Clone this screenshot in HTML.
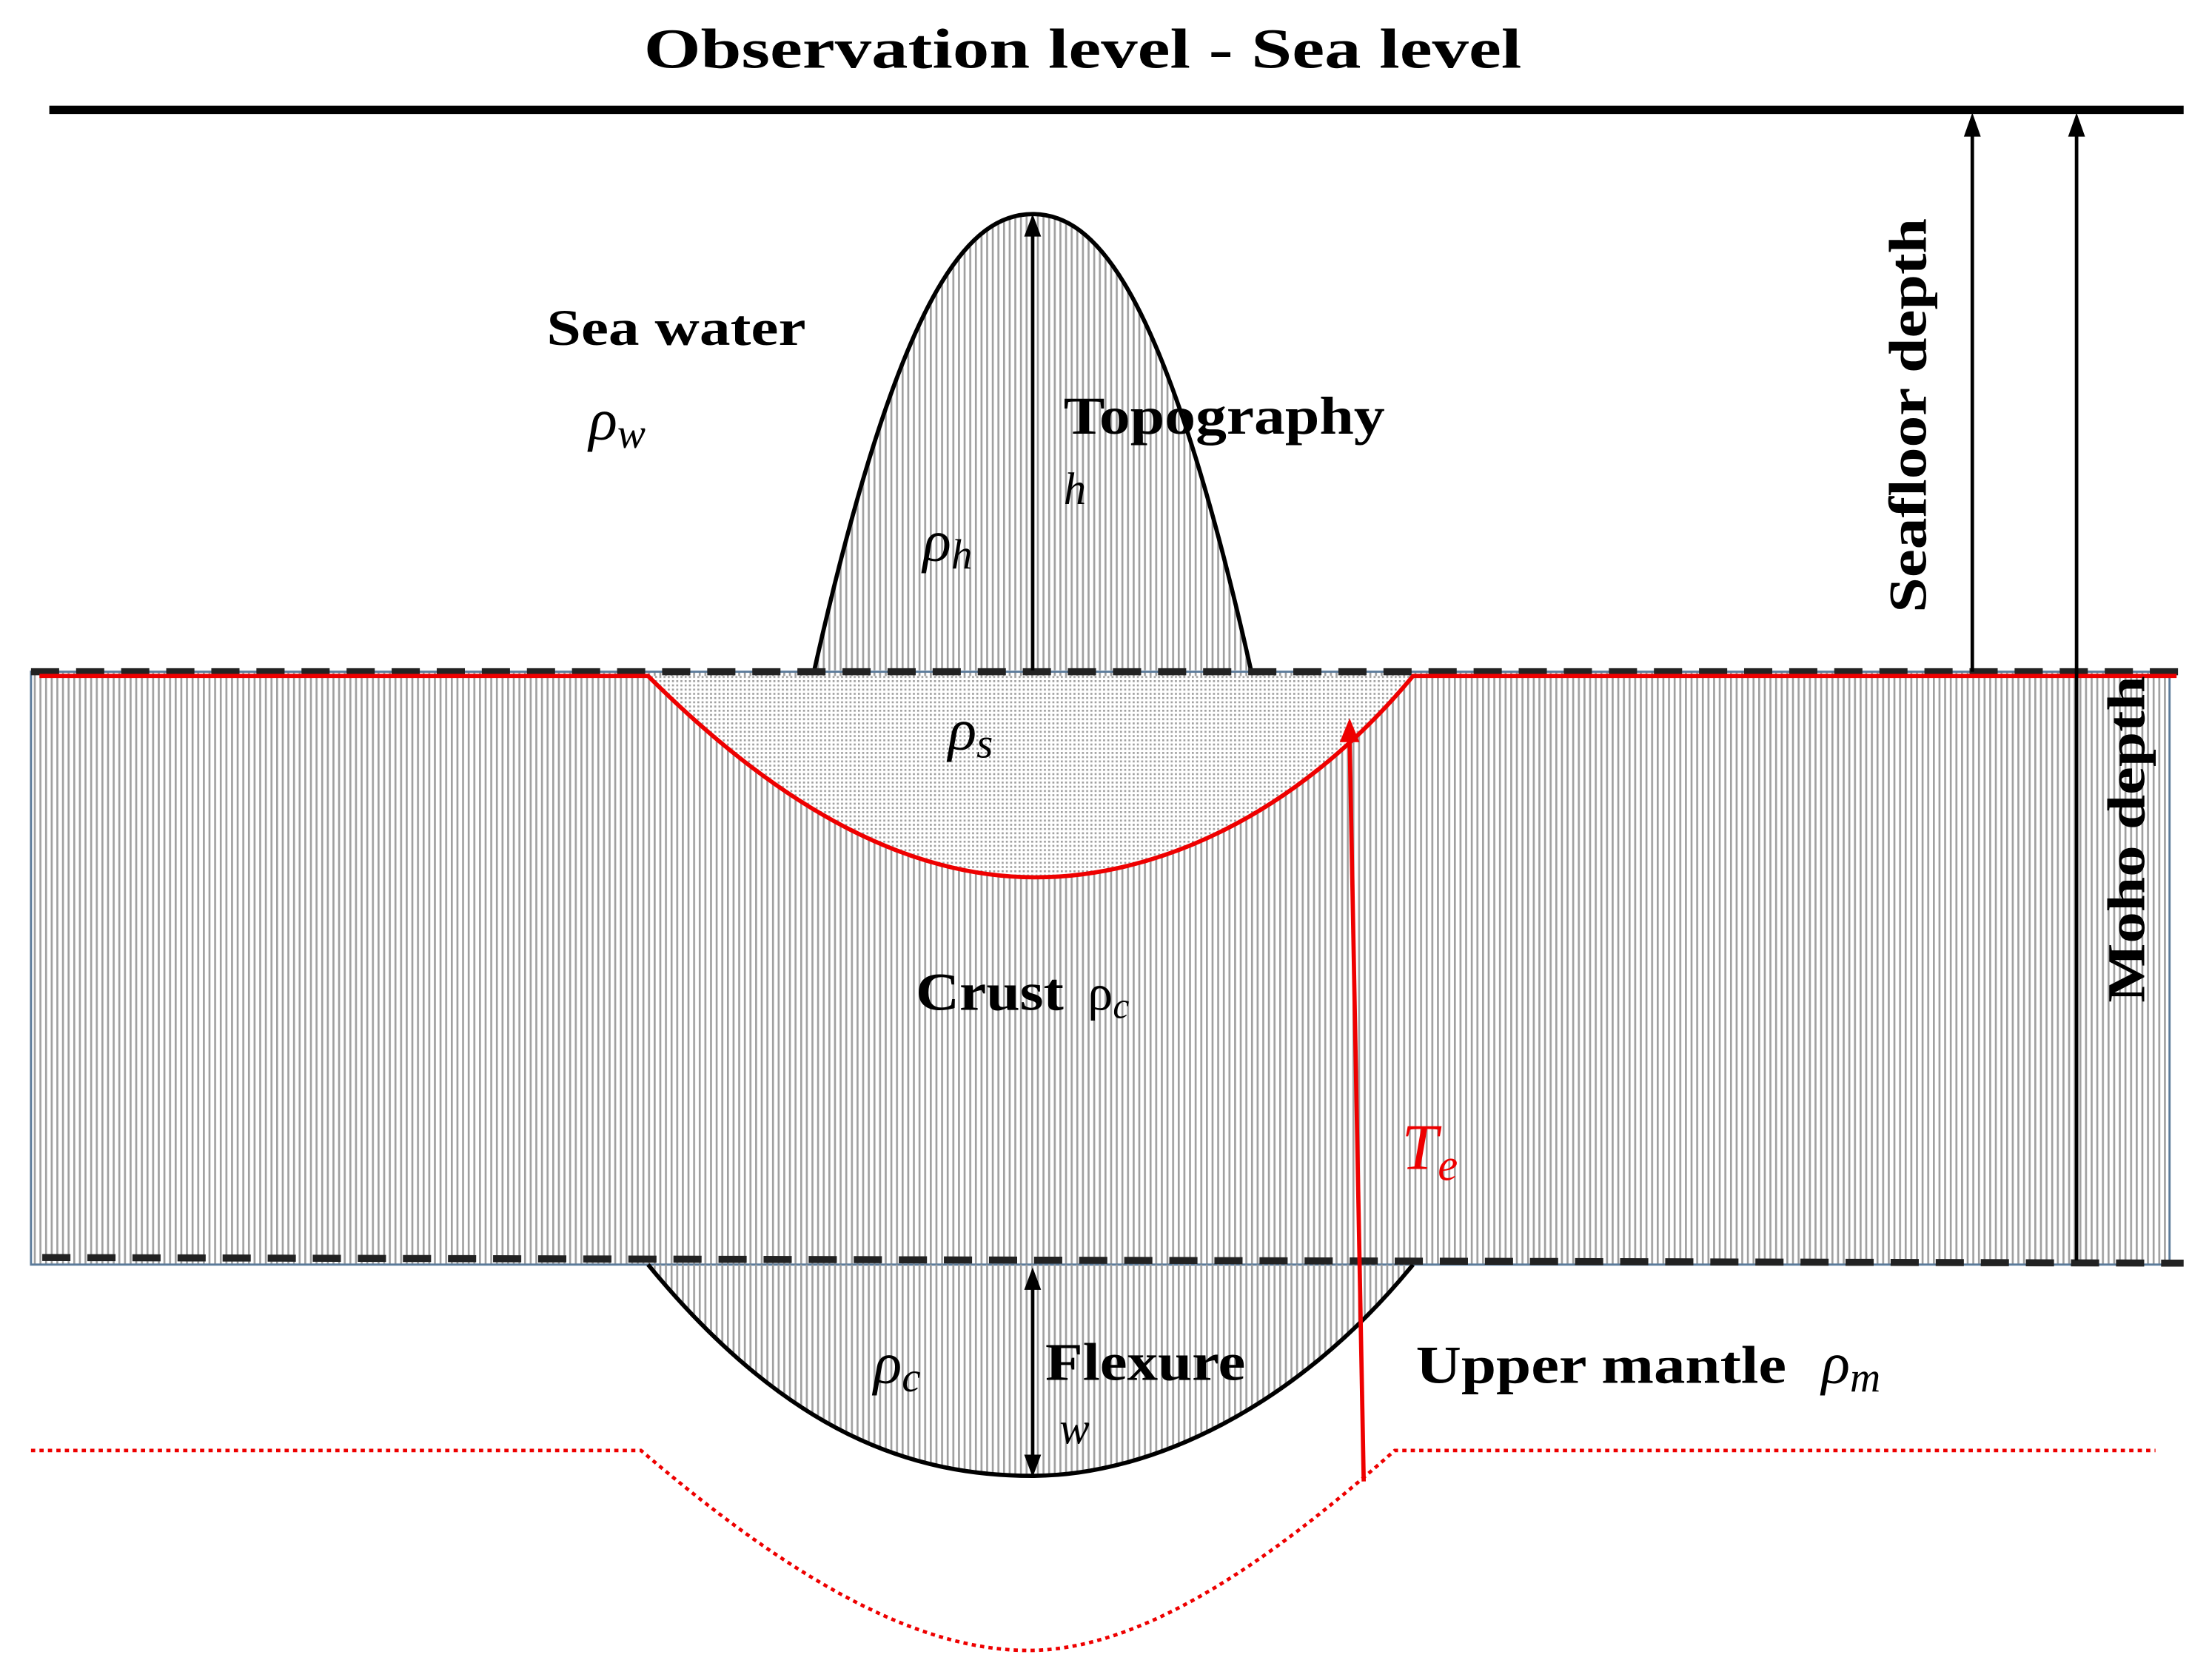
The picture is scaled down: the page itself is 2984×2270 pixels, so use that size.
<!DOCTYPE html>
<html><head><meta charset="utf-8"><style>
html,body{margin:0;padding:0;background:#fff;}
svg{display:block;}
text{font-family:"Liberation Serif",serif;}
</style></head><body>
<svg width="2984" height="2270" viewBox="0 0 1568 1193" preserveAspectRatio="none" xmlns="http://www.w3.org/2000/svg">
<defs>
<pattern id="hat" width="4" height="10" patternUnits="userSpaceOnUse">
<rect x="0" y="0" width="1.4" height="10" fill="#a0a0a0"/>
</pattern>
<pattern id="dot" width="3" height="3" patternUnits="userSpaceOnUse">
<rect x="0" y="0" width="1.4" height="1.4" fill="#a0a0a0"/>
</pattern>
</defs>
<rect width="1568" height="1193" fill="#fff"/>
<text x="457" y="48" font-size="40" font-weight="bold" textLength="623" lengthAdjust="spacingAndGlyphs">Observation level - Sea level</text>
<line x1="35" y1="78" x2="1550" y2="78" stroke="#000" stroke-width="6"/>
<!-- crust -->
<rect x="22" y="477" width="1518" height="421" fill="url(#hat)" stroke="#5a7a9a" stroke-width="1.5"/>
<!-- sediment -->
<path d="M460,480 C560,580 650,623 735,623 C820,623 920,580 1003,480 Z" fill="#fff"/>
<path d="M460,480 C560,580 650,623 735,623 C820,623 920,580 1003,480 Z" fill="url(#dot)"/>
<!-- topography -->
<path d="M578,476 C640,200 690,152 733,152 C776,152 826,200 888,476" fill="url(#hat)" stroke="#000" stroke-width="3"/>
<!-- flexure -->
<path d="M460,898 C560,1020 650,1048 733,1048 C816,1048 920,1000 1003,898" fill="url(#hat)" stroke="#000" stroke-width="3"/>
<line x1="22" y1="477" x2="1550" y2="477" stroke="#222" stroke-width="5" stroke-dasharray="20,12"/>
<line x1="30" y1="893" x2="1550" y2="897" stroke="#222" stroke-width="5" stroke-dasharray="20,12"/>
<path d="M28,480 L460,480 C560,580 650,623 735,623 C820,623 920,580 1003,480 L1545,480" fill="none" stroke="#e00" stroke-width="3"/>
<path d="M22,1030 L455,1030 C560,1120 650,1172 730,1172 C810,1172 900,1110 990,1030 L1530,1030" fill="none" stroke="#e00" stroke-width="2.5" stroke-dasharray="3,3"/>
<!-- arrows -->
<line x1="733" y1="476" x2="733" y2="165" stroke="#000" stroke-width="2.5"/>
<polygon points="733,152 727,168 739,168" fill="#000"/>
<line x1="733" y1="912" x2="733" y2="1036" stroke="#000" stroke-width="2.5"/>
<polygon points="733,900 727,916 739,916" fill="#000"/>
<polygon points="733,1049 727,1033 739,1033" fill="#000"/>
<line x1="1400" y1="477" x2="1400" y2="92" stroke="#000" stroke-width="2.5"/>
<polygon points="1400,80 1394,97 1406,97" fill="#000"/>
<line x1="1474" y1="895" x2="1474" y2="92" stroke="#000" stroke-width="2.5"/>
<polygon points="1474,80 1468,97 1480,97" fill="#000"/>
<line x1="968" y1="1052" x2="958" y2="525" stroke="#e00" stroke-width="3"/>
<polygon points="958,510 951,527 965,527" fill="#e00"/>
<!-- labels -->
<text x="388" y="245" font-size="36" font-weight="bold" textLength="184" lengthAdjust="spacingAndGlyphs">Sea water</text>
<text x="418" y="312" font-size="42" font-style="italic">ρ<tspan font-size="30" dy="6">w</tspan></text>
<text x="755" y="308" font-size="38" font-weight="bold" textLength="228" lengthAdjust="spacingAndGlyphs">Topography</text>
<text x="755" y="358" font-size="32" font-style="italic">h</text>
<text x="655" y="398" font-size="42" font-style="italic">ρ<tspan font-size="30" dy="6">h</tspan></text>
<text x="673" y="532" font-size="42" font-style="italic">ρ<tspan font-size="30" dy="6">s</tspan></text>
<text x="650" y="717" font-size="38" font-weight="bold" textLength="105" lengthAdjust="spacingAndGlyphs">Crust</text>
<text x="772" y="717" font-size="36">ρ<tspan font-style="italic" font-size="26" dy="6">c</tspan></text>
<text x="995" y="830" font-size="46" font-style="italic" fill="#e00">T<tspan font-size="32" dy="8">e</tspan></text>
<text x="620" y="982" font-size="42" font-style="italic">ρ<tspan font-size="30" dy="6">c</tspan></text>
<text x="742" y="980" font-size="38" font-weight="bold" textLength="142" lengthAdjust="spacingAndGlyphs">Flexure</text>
<text x="752" y="1025" font-size="32" font-style="italic">w</text>
<text x="1005" y="982" font-size="38" font-weight="bold" textLength="263" lengthAdjust="spacingAndGlyphs">Upper mantle</text>
<text x="1293" y="982" font-size="42" font-style="italic">ρ<tspan font-size="30" dy="6">m</tspan></text>
<text transform="translate(1367,295) rotate(-90)" font-size="38" font-weight="bold" text-anchor="middle" textLength="280" lengthAdjust="spacingAndGlyphs">Seafloor depth</text>
<text transform="translate(1522,596) rotate(-90)" font-size="38" font-weight="bold" text-anchor="middle" textLength="232" lengthAdjust="spacingAndGlyphs">Moho depth</text>
</svg>
</body></html>
